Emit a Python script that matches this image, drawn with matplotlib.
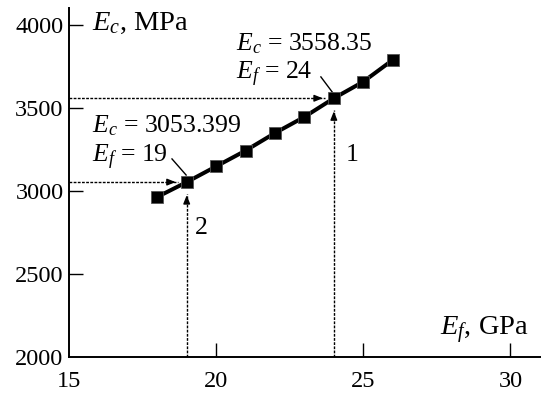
import matplotlib
matplotlib.use("Agg")
import matplotlib.pyplot as plt

plt.rcParams['font.family'] = ['Liberation Serif']
plt.rcParams['mathtext.fontset'] = 'custom'
plt.rcParams['mathtext.rm'] = 'Liberation Serif'
plt.rcParams['mathtext.it'] = 'Liberation Serif:italic'

# Data
Ef = [18, 19, 20, 21, 22, 23, 24, 25, 26]
Ec = [2964, 3053.399, 3148, 3243, 3349, 3446, 3558.35, 3658, 3789]
x_ticks = [20, 25, 30]
y_ticks = [2500, 3000, 3500, 4000]
x_labels = ['15', '20', '25', '30']
y_labels = ['2000', '2500', '3000', '3500', '4000']
marked_Ef = [19, 24]
marked_Ec = [3053.399, 3558.35]
curve_ids = ['2', '1']

fig = plt.figure(figsize=(5.41, 3.97), dpi=100)
ax = fig.add_axes([69/541, 1-357/397, 1-69/541, (357-8)/397])
ax.set_xlim(15, 31.04)
ax.set_ylim(2000, 4102)
for s in ['top', 'right']:
    ax.spines[s].set_visible(False)
for s in ['left', 'bottom']:
    ax.spines[s].set_linewidth(1.4)

ax.plot(Ef, Ec, color='black', lw=2.9, marker='s', ms=8, mfc='black', mec='#555555', mew=0.6, zorder=3)

ax.set_xticks([15] + x_ticks)
ax.set_xticklabels(x_labels)
ax.set_yticks([2000] + y_ticks)
ax.set_yticklabels(y_labels)
ax.tick_params(direction='in', length=10, width=1.0, labelsize=17.5, pad=4)
ax.tick_params(axis='x', pad=10)
xt = ax.xaxis.get_major_ticks()
xt[0].tick1line.set_visible(False)
yt = ax.yaxis.get_major_ticks()
yt[0].tick1line.set_visible(False)

# Dotted guide lines with arrows
for xv, yv in zip(marked_Ef, marked_Ec):
    ax.plot([15, xv - 0.3], [yv, yv], color='black', lw=1.0, ls=(0, (2, 1)), zorder=2)
    ax.plot([xv, xv], [2000, yv - 70], color='black', lw=1.0, ls=(0, (2, 1)), zorder=2)
    ax.annotate('', xy=(xv - 0.28, yv), xytext=(xv - 0.6, yv),
                arrowprops=dict(arrowstyle='-|>,head_length=0.5,head_width=0.2', color='black', lw=1.0))
    ax.annotate('', xy=(xv, yv - 62), xytext=(xv, yv - 140),
                arrowprops=dict(arrowstyle='-|>,head_length=0.5,head_width=0.2', color='black', lw=1.0))

# Annotation texts
fs = 18.5
ax.text(15.78, 3355, r'$E_c$ = 3053.399', fontsize=fs, ha='left', va='baseline')
ax.text(15.78, 3175, r'$E_f$ = 19', fontsize=fs, ha='left', va='baseline')
ax.plot([18.5, 18.98], [3193, 3096], color='black', lw=1.0)
ax.text(20.67, 3849, r'$E_c$ = 3558.35', fontsize=fs, ha='left', va='baseline')
ax.text(20.67, 3669, r'$E_f$ = 24', fontsize=fs, ha='left', va='baseline')
ax.plot([23.56, 23.97], [3687, 3590], color='black', lw=1.0)

ax.text(24.63, 3217, curve_ids[1], fontsize=fs, ha='center', va='center')
ax.text(19.5, 2777, curve_ids[0], fontsize=fs, ha='center', va='center')

ax.text(15.78, 4010, r'$E_c$, MPa', fontsize=20.5, ha='left', va='center')
ax.text(27.6, 2160, r'$E_f$, GPa', fontsize=20.5, ha='left', va='center')

fig.savefig('out.png', dpi=100)
